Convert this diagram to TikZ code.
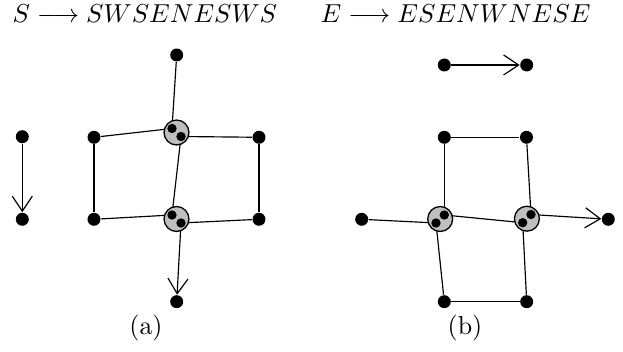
\documentclass[tikz,border=0pt]{standalone}
\usetikzlibrary{arrows.meta,backgrounds}
\begin{document}
\begin{tikzpicture}[x=0.385pt,y=-0.385pt,
  dot/.style={circle,fill=black,inner sep=0pt,minimum size=5pt},
  idot/.style={circle,fill=black,inner sep=0pt,minimum size=3.6pt},
  ring/.style={circle,draw=black,fill=black!25,inner sep=0pt,minimum size=9.6pt,line width=0.5pt},
  edge/.style={line width=0.45pt},
  arr/.style={edge,-{Straight Barb[length=5.8pt,width=7.7pt]}},
  lbl/.style={inner sep=0pt}]
\useasboundingbox (0,0) rectangle (623,352);
\node[lbl,anchor=base west] (r1) at (12,23) {$S\longrightarrow SWSENESWS$};
\node[lbl,anchor=base west] (r2) at (320,23) {$E\longrightarrow ESENWNESE$};

% standalone rule
\node[dot] (s1) at (22.3,136.7) {};
\node[dot] (s2) at (22.3,219.3) {};

% (a)
\node[dot] (at) at (176.7,55) {};
\node[ring] (ua) at (176.5,132.5) {};
\node[idot] (ua1) at (172,128.5) {};
\node[idot] (ua2) at (181,136.5) {};
\node[dot] (lu) at (94,137.3) {};
\node[dot] (ru) at (259,137.3) {};
\node[ring] (la) at (176.5,219) {};
\node[idot] (la1) at (172,215) {};
\node[idot] (la2) at (181,223) {};
\node[dot] (ll) at (94,219.3) {};
\node[dot] (rl) at (259,219.3) {};
\node[dot] (ab) at (176.7,301.7) {};
\node[lbl] (capa) at (146,328) {(a)};

% (b)
\node[dot] (bt1) at (444.3,65) {};
\node[dot] (bt2) at (526.7,65) {};
\node[dot] (tl) at (444.3,137.3) {};
\node[dot] (tr) at (526.5,137.3) {};
\node[ring] (lb) at (440.2,219) {};
\node[idot] (lb1) at (444.3,215) {};
\node[idot] (lb2) at (436,223) {};
\node[ring] (rb) at (526.9,218.7) {};
\node[idot] (rb1) at (531,214.5) {};
\node[idot] (rb2) at (522.7,222.7) {};
\node[dot] (bl) at (361.7,219.3) {};
\node[dot] (br) at (608.3,219.3) {};
\node[dot] (bbl) at (444.3,301.7) {};
\node[dot] (bbr) at (526.7,301.7) {};
\node[lbl] (capb) at (465,328) {(b)};

\begin{scope}[on background layer]
\draw[arr] (s1) -- (s2);
\draw[edge] (at) -- (ua1);
\draw[edge] (ua1) -- (lu);
\draw[edge] (lu) -- (ll);
\draw[edge] (ll) -- (la1);
\draw[edge] (la1) -- (ua2);
\draw[edge] (ua2) -- (ru);
\draw[edge] (ru) -- (rl);
\draw[edge] (rl) -- (la2);
\draw[arr] (la2) -- (ab);

\draw[arr] (bt1) -- (bt2);
\draw[edge] (bl) -- (lb2);
\draw[edge] (lb2) -- (bbl);
\draw[edge] (bbl) -- (bbr);
\draw[edge] (bbr) -- (rb2);
\draw[edge] (rb2) -- (lb1);
\draw[edge] (lb1) -- (tl);
\draw[edge] (tl) -- (tr);
\draw[edge] (tr) -- (rb1);
\draw[arr] (rb1) -- (br);
\end{scope}
\end{tikzpicture}
\end{document}
